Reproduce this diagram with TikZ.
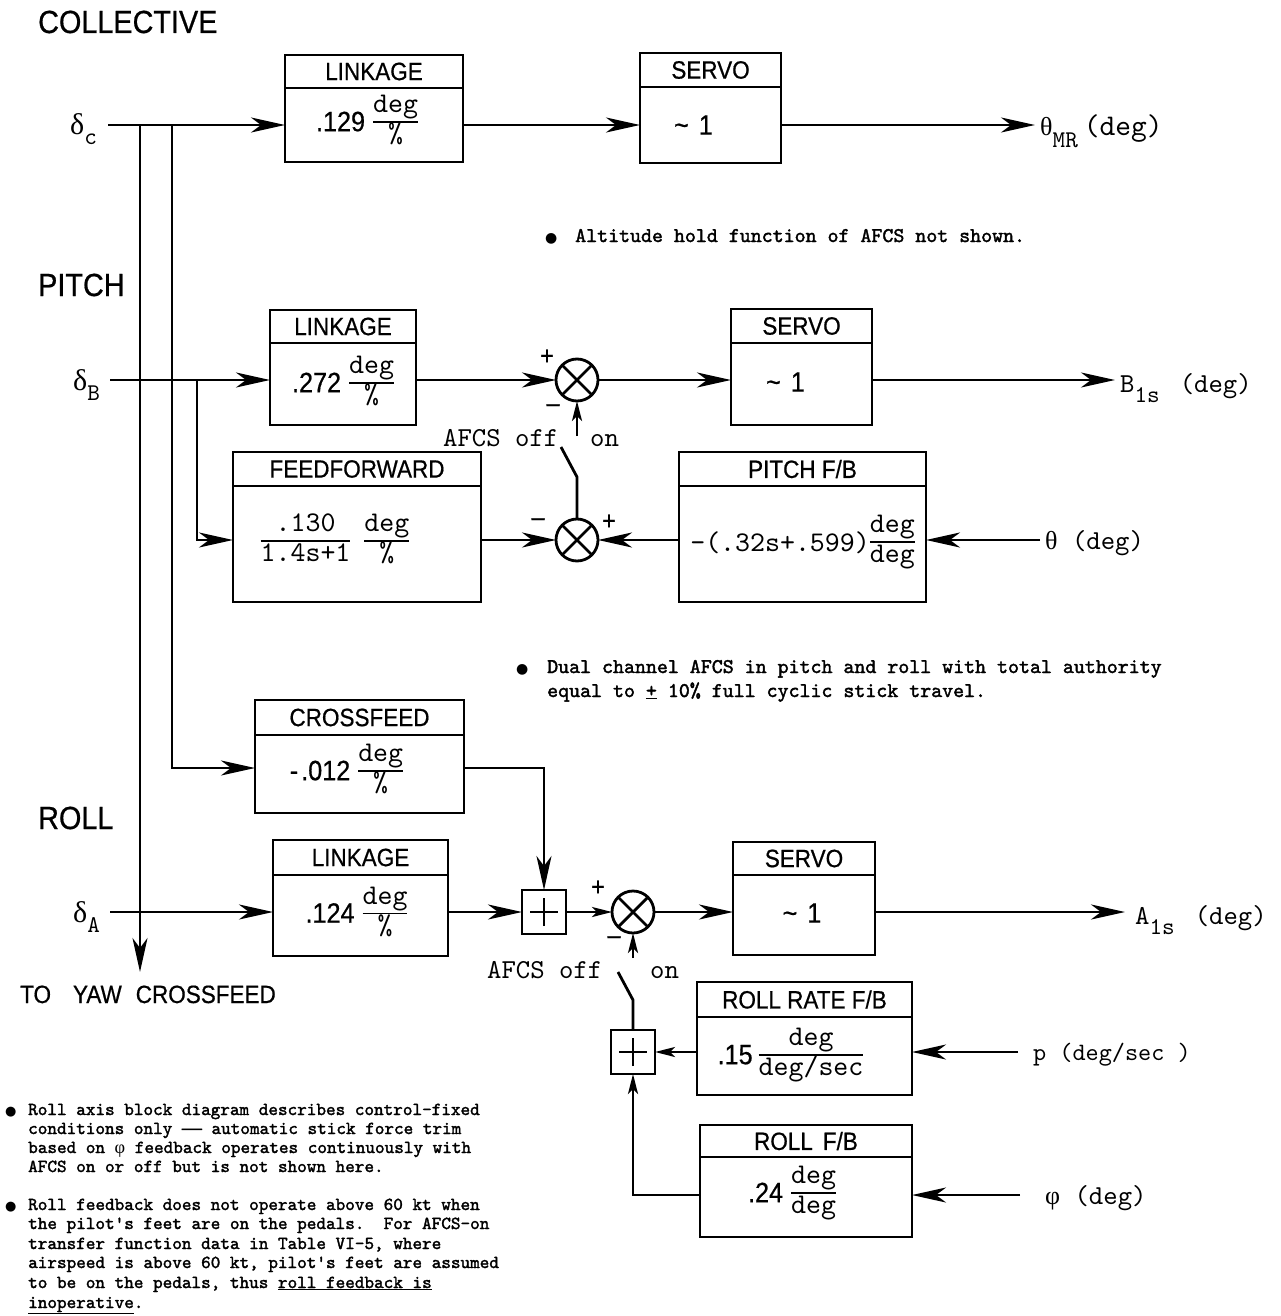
\documentclass[tikz,border=0pt]{standalone}
\usepackage{fontspec}
\setmainfont{lmmono10-regular.otf}
\newfontfamily\notef{lmmono10-regular.otf}[FakeBold=1.8]
\newfontfamily\sfh{Liberation Sans}[FakeStretch=0.9,FakeBold=0.6]
\newfontfamily\gr{Liberation Serif}
\newfontfamily\grb{Liberation Serif}[FakeBold=1.5]
\newfontfamily\dejav{DejaVu Sans}
\usetikzlibrary{arrows.meta}
\setlength\arrayrulewidth{1.8pt}
\newcommand\fs[1]{\fontsize{#1}{#1}\selectfont}
\newcommand\frc[2]{\raisebox{3pt}{\begin{tabular}{@{}c@{}}#1\\\hline #2\end{tabular}}}
\newcommand\sd[1]{{\sfh\fs{28}#1}}
\tikzset{
 hbox/.style={draw,line width=2.8pt,rectangle,inner sep=0pt,outer sep=0pt,font=\sfh\fs{25}},
 bbox/.style={draw,line width=2.8pt,rectangle,inner sep=0pt,outer sep=0pt},
 ctext/.style={inner sep=0pt,font=\fs{28.5}},
 sumc/.style={draw,circle,line width=2.8pt,minimum size=42pt,inner sep=0pt,outer sep=0pt},
 pbox/.style={draw,rectangle,line width=2.8pt,minimum size=44pt,inner sep=0pt,outer sep=0pt},
 arr/.style={line width=2.8pt,-{Stealth[length=34pt,width=15pt,inset=10pt]}},
 sarr/.style={line width=2.8pt,-{Stealth[length=20pt,width=10pt,inset=5pt]}},
 conn/.style={line width=2.8pt},
 lbl/.style={inner sep=0pt,anchor=base west,font=\fs{27.4}},
 big/.style={inner sep=0pt,anchor=base west,font=\sfh\fs{32}},
 sgn/.style={inner sep=0pt,font=\sfh\fs{26}},
 note/.style={inner sep=0pt,anchor=base west,font=\notef\fs{18.3}},
}
\newcommand\blk[9]{%
\node[hbox,minimum width=#4pt,minimum height=#5pt,anchor=north west] (#1h) at (#2,#3) {#7};
\node[bbox,minimum width=#4pt,minimum height=#6pt,anchor=north] (#1) at (#1h.south) {};
\node[ctext] (#1t) at ([shift={(#9)}]#1.center) {#8};}
\begin{document}
\begin{tikzpicture}[x=1pt,y=-1pt]
\useasboundingbox (0,0) rectangle (1280,1316);
\fill[white] (0,0) rectangle (1280,1316);
% rows
\coordinate (rowC) at (0,125);
\coordinate (rowB) at (0,380);
\coordinate (rowF) at (0,540);
\coordinate (rowX) at (0,768);
\coordinate (rowA) at (0,912);
\coordinate (rowP) at (0,1052);
\coordinate (rowPhi) at (0,1195);
% titles
\node[big] (tcol) at (38,33) {COLLECTIVE};
\node[big] (tpit) at (38,296) {PITCH};
\node[big] (trol) at (38,829) {ROLL};
\node[big,font=\sfh\fs{25}] (yaw) at (20,1003) {TO\hspace{22pt}YAW\hspace{14pt}CROSSFEED};
% blocks
\blk{cl}{285}{55}{178}{33}{74}{LINKAGE}{\sd{.129}\hspace{8pt}\frc{deg}{\%}}{-7,-3}
\blk{cs}{640}{53}{141}{34}{76}{SERVO}{\sd{\textasciitilde\hspace{10pt}1}}{-17,0}
\blk{pl}{270}{310}{146}{33}{82}{LINKAGE}{\sd{.272}\hspace{8pt}\frc{deg}{\%}}{0,-1}
\blk{ps}{731}{309}{141}{34}{82}{SERVO}{\sd{\textasciitilde\hspace{10pt}1}}{-16,-2}
\blk{ff}{233}{452}{248}{34}{116}{FEEDFORWARD}{\frc{.130}{1.4s+1}\hspace{14pt}\frc{deg}{\%}}{-22,-3}
\blk{pfb}{679}{452}{247}{34}{116}{PITCH F/B}{-(.32s+.599)\frc{deg}{deg}}{0,-2}
\blk{cf}{255}{700}{209}{35}{78}{CROSSFEED}{\sd{-\hspace{3pt}.012}\hspace{8pt}\frc{deg}{\%}}{-13,-3}
\blk{rl}{273}{840}{175}{35}{81}{LINKAGE}{\sd{.124}\hspace{8pt}\frc{deg}{\%}}{-4,-2}
\blk{rs}{733}{842}{142}{33}{80}{SERVO}{\sd{\textasciitilde\hspace{10pt}1}}{-2,-2}
\blk{rr}{697}{982}{215}{35}{78}{ROLL RATE F/B}{\sd{.15}\hspace{6pt}\frc{deg}{deg/sec}}{-14,-1}
\blk{rf}{700}{1125}{212}{32}{80}{ROLL\hspace{10pt}F/B}{\sd{.24}\hspace{8pt}\frc{deg}{deg}}{-14,-4}
% junctions
\node[sumc] (s1) at (577,380) {};
\node[sumc] (s2) at (577,540) {};
\node[sumc] (s3) at (633,912) {};
\foreach \s in {s1,s2,s3}{
 \draw[conn] (\s.north west) -- (\s.south east) (\s.north east) -- (\s.south west);}
\node[pbox] (p1) at (544,912) {};
\node[pbox] (p2) at (633,1052) {};
\foreach \p in {p1,p2}{
 \draw[conn] ([xshift=-14pt]\p.center) -- ([xshift=14pt]\p.center) ([yshift=-14pt]\p.center) -- ([yshift=14pt]\p.center);}
% signs
\node[sgn] (sg1) at (547,357) {+};
\node[sgn] (sg2) at (553,408) {\textendash};
\node[sgn] (sg3) at (538,522) {\textendash};
\node[sgn] (sg4) at (609,522) {+};
\node[sgn] (sg5) at (598,888) {+};
\node[sgn] (sg6) at (614,940) {\textendash};
% switches
\coordinate (sw1a) at (577,477);
\coordinate (sw1b) at (561,447);
\coordinate (sw1c) at (577,436);
\draw[conn] (s2.north) -- (sw1a) -- (sw1b);
\draw[sarr] (sw1c) -- (s1.south);
\coordinate (sw2a) at (633,1000);
\coordinate (sw2b) at (618,972);
\coordinate (sw2c) at (633,958);
\draw[conn] (p2.north) -- (sw2a) -- (sw2b);
\draw[sarr] (sw2c) -- (s3.south);
\node[lbl] (af1) at (443,446) {AFCS off};
\node[lbl] (on1) at (590,446) {on};
\node[lbl] (af2) at (487,978) {AFCS off};
\node[lbl] (on2) at (650,978) {on};
% input/output labels
\node[lbl] (dc) at (70,135) {{\gr\fs{30}δ}\raisebox{-10pt}{\fs{24}c}};
\node[lbl] (db) at (73,390) {{\gr\fs{30}δ}\raisebox{-10pt}{\fs{24}B}};
\node[lbl] (da) at (73,922) {{\gr\fs{30}δ}\raisebox{-10pt}{\fs{24}A}};
\node[lbl] (thmr) at (1040,136) {{\gr\fs{26}θ}\raisebox{-12pt}{\fs{24}MR}\hspace{6pt}{\fs{30}(deg)}};
\node[lbl] (b1s) at (1120,392) {B\raisebox{-10pt}{\fs{24}1s}\hspace{20pt}(deg)};
\node[lbl] (a1s) at (1135,924) {A\raisebox{-10pt}{\fs{24}1s}\hspace{20pt}(deg)};
\node[lbl] (thin) at (1045,549) {{\gr\fs{26}θ} (deg)};
\node[lbl,font=\fs{25}] (pin) at (1033,1060) {p (deg/sec )};
\node[lbl] (phin) at (1045,1204) {{\gr\fs{26}φ} (deg)};
% free ends
\coordinate (dcs) at (108,125);
\coordinate (dbs) at (110,380);
\coordinate (das) at (110,912);
\coordinate (j1) at (140,125);
\coordinate (j2) at (172,125);
\coordinate (j3) at (197,380);
\coordinate (yawt) at (140,972);
\coordinate (cout) at (1035,125);
\coordinate (bout) at (1115,380);
\coordinate (aout) at (1125,912);
\coordinate (thi) at (1040,540);
\coordinate (pst) at (1018,1052);
\coordinate (phs) at (1020,1195);
% connectors
\draw[arr] (dcs) -- (cl.west |- rowC);
\draw[arr] (cl.east |- rowC) -- (cs.west |- rowC);
\draw[arr] (cs.east |- rowC) -- (cout);
\draw[arr] (j1) -- (yawt);
\draw[arr] (j2) |- (cf.west |- rowX);
\draw[arr] (dbs) -- (pl.west |- rowB);
\draw[arr] (j3) |- (ff.west |- rowF);
\draw[arr] (pl.east |- rowB) -- (s1.west);
\draw[arr] (s1.east) -- (ps.west |- rowB);
\draw[arr] (ps.east |- rowB) -- (bout);
\draw[arr] (ff.east |- rowF) -- (s2.west);
\draw[arr] (pfb.west |- rowF) -- (s2.east);
\draw[arr] (thi) -- (pfb.east |- rowF);
\draw[arr] (cf.east |- rowX) -| (p1.north);
\draw[arr] (das) -- (rl.west |- rowA);
\draw[arr] (rl.east |- rowA) -- (p1.west);
\draw[sarr] (p1.east) -- (s3.west);
\draw[arr] (s3.east) -- (rs.west |- rowA);
\draw[arr] (rs.east |- rowA) -- (aout);
\draw[arr] (pst) -- (rr.east |- rowP);
\draw[sarr] (rr.west |- rowP) -- (p2.east);
\draw[arr] (phs) -- (rf.east |- rowPhi);
\draw[sarr] (rf.west |- rowPhi) -| (p2.south);
% notes
\node[note,font=\notef\fs{20.9}] (alt) at (545,242) {\makebox[30pt][l]{\dejav\fs{14}●}Altitude hold function of AFCS not shown.};
\node[note,font=\notef\fs{20.9}] (du1) at (516,673) {\makebox[31pt][l]{\dejav\fs{14}●}Dual channel AFCS in pitch and roll with total authority};
\node[note,font=\notef\fs{20.9}] (du2) at (547,697) {equal to \underline{+} 10\% full cyclic stick travel.};
\node[note] (n0) at (5,1115) {\makebox[23pt][l]{\dejav\fs{13}●}Roll axis block diagram describes control-fixed};
\node[note] (n1) at (28,1134) {conditions only {\grb\fs{20}—} automatic stick force trim};
\node[note] (n2) at (28,1153) {based on {\gr φ} feedback operates continuously with};
\node[note] (n3) at (28,1172) {AFCS on or off but is not shown here.};
\node[note] (n4) at (5,1210) {\makebox[23pt][l]{\dejav\fs{13}●}Roll feedback does not operate above 60 kt when};
\node[note] (n5) at (28,1229) {the pilot\textquotesingle s feet are on the pedals.\ \ For AFCS-on};
\node[note] (n6) at (28,1249) {transfer function data in Table VI-5, where};
\node[note] (n7) at (28,1268) {airspeed is above 60 kt, pilot\textquotesingle s feet are assumed};
\node[note] (n8) at (28,1288) {to be on the pedals, thus \underline{roll feedback is}};
\node[note] (n9) at (28,1308) {\underline{inoperative}.};
\end{tikzpicture}
\end{document}
